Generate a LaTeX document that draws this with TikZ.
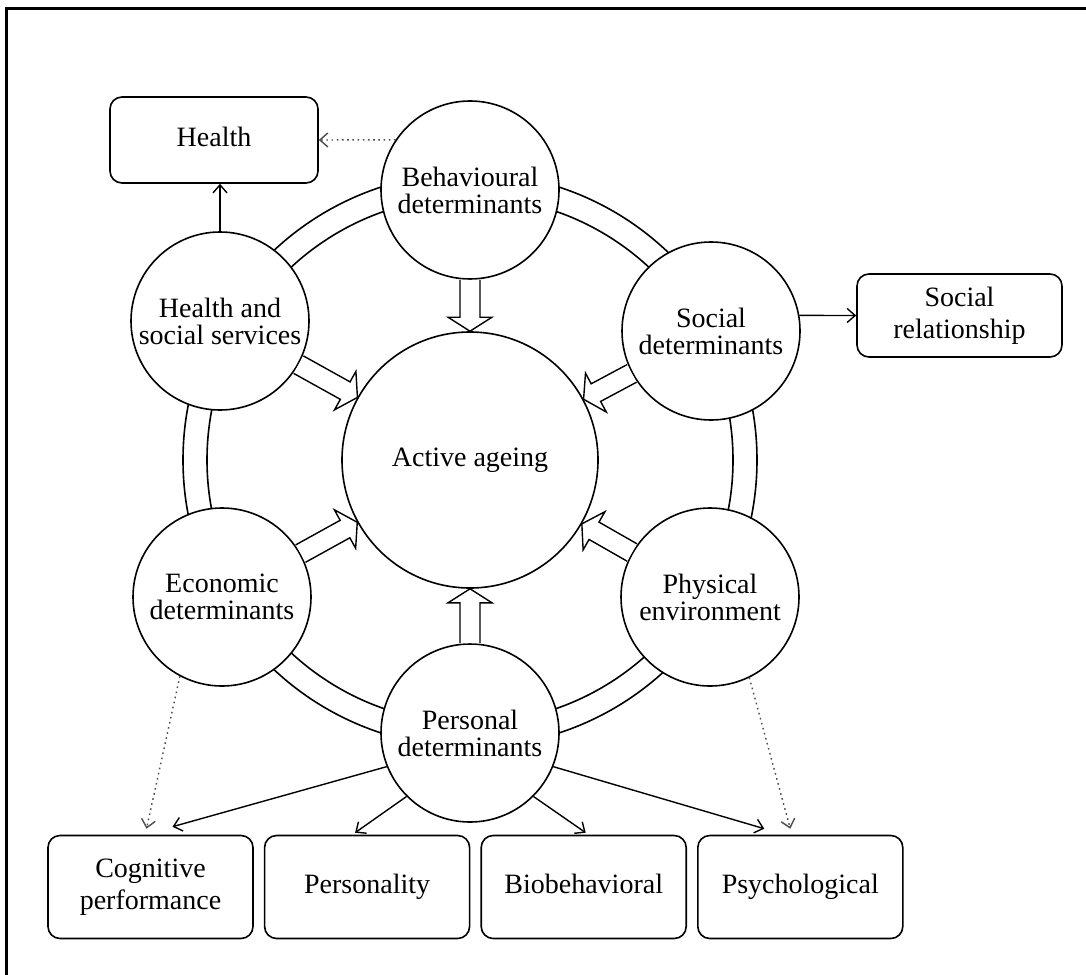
\documentclass[tikz,border=0pt]{standalone}
\usepackage{fontspec}
\setmainfont{Liberation Serif}
\usetikzlibrary{arrows.meta,positioning,calc}
\tikzset{
  det/.style={draw, circle, line width=0.8pt, fill=white, minimum size=89pt, inner sep=0pt, align=center, font=\fontsize{14}{13.5}\selectfont},
  core/.style={det, minimum size=128pt},
  outbox/.style={draw, rectangle, rounded corners=6pt, line width=0.8pt, fill=white, minimum width=102.5pt, minimum height=51.5pt, align=center, font=\fontsize{14}{16}\selectfont},
  oneline/.style={text height=9.5pt, text depth=3pt},
  arr/.style={-{Straight Barb[length=4pt, width=7pt]}, line width=0.7pt},
  darr/.style={arr, dash pattern=on 0.8pt off 1.8pt, black!70},
  fat/.style={line width=0.7pt, line join=miter, fill=white},
  ring/.style={line width=0.8pt},
  frame/.style={line width=1.5pt}
}
\newcommand{\fatarrow}[2]{%
  \path (#1) -- (#2) coordinate[pos=0] (fa-a) coordinate[pos=1] (fa-b);
  \coordinate (fa-h) at ($(fa-b)!7pt!(fa-a)$);
  \draw[fat] ($(fa-a)!5pt!90:(fa-b)$) -- ($(fa-h)!5pt!90:(fa-b)$) -- ($(fa-h)!11pt!90:(fa-b)$) -- (fa-b)
    -- ($(fa-h)!11pt!-90:(fa-b)$) -- ($(fa-h)!5pt!-90:(fa-b)$) -- ($(fa-a)!5pt!-90:(fa-b)$);
}

\begin{document}
\begin{tikzpicture}[x=0.5pt, y=-0.5pt]
\useasboundingbox (0,0) rectangle (1086,974);
\draw[frame] (1090,9) -- (6,9) -- (6,980);

% ring behind the determinants
\coordinate (mid) at (470,460);
\draw[ring] (mid) circle[radius=131.5pt];
\draw[ring] (mid) circle[radius=143.5pt];

\node[core] (aa) at (mid) {Active ageing};
\node[det] (bd) at (470,190) {Behavioural\\determinants};
\node[det] (hs) at (220,321) {Health and\\social services};
\node[det] (ss) at (711,331) {Social\\determinants};
\node[det] (ed) at (222,597) {Economic\\determinants};
\node[det] (pe) at (710,597) {Physical\\environment};
\node[det] (pd) at (470,733) {Personal\\determinants};

\node[outbox, oneline, minimum width=104pt, minimum height=43pt] (health) at (214,140) {Health};
\node[outbox, minimum height=41.5pt] (socrel) at (959.5,315.5) {Social\\relationship};
\node[outbox] (cog) at (150.5,887) {Cognitive\\performance};
\node[outbox, oneline, right=5pt of cog] (pers) {Personality};
\node[outbox, oneline, right=5pt of pers] (bio) {Biobehavioral};
\node[outbox, oneline, right=5pt of bio] (psy) {Psychological};

\foreach \s in {bd,hs,ss,ed,pe,pd}
  \fatarrow{\s}{aa};

\draw[arr] (hs.north) -- (hs.north |- health.south);
\draw[darr] (bd.146) -- (health.east);
\draw[arr] (ss.10) -- (socrel.west);
\draw[darr] (ed.-118) -- ([xshift=-2pt, yshift=3pt]cog.north);
\draw[darr] (pe.-64) -- ([xshift=-5pt, yshift=3pt]psy.north);
\draw[arr] (pd.202) -- ([xshift=11pt, yshift=4pt]cog.north);
\draw[arr] (pd.225) -- ([xshift=-6pt, yshift=1pt]pers.north);
\draw[arr] (pd.-45) -- ([xshift=1pt, yshift=1pt]bio.north);
\draw[arr] (pd.-22) -- ([xshift=-18pt, yshift=3pt]psy.north);
\end{tikzpicture}
\end{document}
